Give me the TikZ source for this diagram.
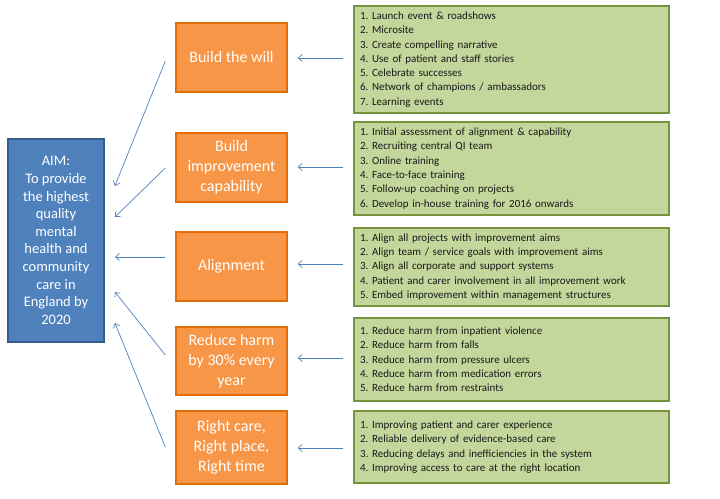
\documentclass[tikz,border=0pt]{standalone}
\usepackage{fontspec}
\setmainfont{Carlito}
\usetikzlibrary{calc,arrows.meta}
\definecolor{aimfill}{HTML}{4F81BD}
\definecolor{aimline}{HTML}{385D8A}
\definecolor{orfill}{HTML}{F79646}
\definecolor{orline}{HTML}{E36C0A}
\definecolor{grfill}{HTML}{C3D69B}
\definecolor{grline}{HTML}{77933C}
\definecolor{arrcol}{HTML}{4F81BD}
\tikzset{
  aimbox/.style={draw=aimline, line width=1.8pt, fill=aimfill, text=white,
    minimum width=96pt, minimum height=203pt, align=center, inner sep=0pt,
    font=\fontsize{14.5}{17.6}\selectfont},
  orbox/.style={draw=orline, line width=1.4pt, fill=orfill, text=white,
    minimum width=111pt, align=center, inner sep=0pt,
    font=\fontsize{16}{20}\selectfont},
  grbox/.style={draw=grline, line width=1.8pt, fill=grfill, text=black!90,
    text width=303pt, inner sep=6pt, align=left,
    font=\fontsize{11}{14.3}\selectfont\frenchspacing},
  arr/.style={draw=arrcol, line width=0.7pt, -{Straight Barb[length=4pt,width=7pt]}}
}
\begin{document}
\begin{tikzpicture}[x=1pt,y=-1pt]
\useasboundingbox (0,0) rectangle (720,498);
% aim
\node[aimbox] (aim) at (56,240.5) {AIM:\\To provide\\the highest\\quality\\mental\\health and\\community\\care in\\England by\\2020};
% orange
\node[orbox, minimum height=69pt] (o1) at (231.5,57.5) {Build the will};
\node[orbox, minimum height=69pt] (o2) at (231.5,167.5) {Build\\improvement\\capability};
\node[orbox, minimum height=69pt] (o3) at (231.5,266.5) {Alignment};
\node[orbox, minimum height=68pt] (o4) at (231.5,361) {Reduce harm\\by 30\% every\\year};
\node[orbox, minimum height=73pt] (o5) at (231.5,447.5) {Right care,\\Right place,\\Right time};
% green
\node[grbox, minimum height=105pt] (g1) at (511.5,59.5) {1. Launch event \& roadshows\\2. Microsite\\3. Create compelling narrative\\4. Use of patient and staff stories\\5. Celebrate successes\\6. Network of champions / ambassadors\\7. Learning events};
\node[grbox, minimum height=93pt] (g2) at (511.5,168.5) {1. Initial assessment of alignment \& capability\\2. Recruiting central QI team\\3. Online training\\4. Face-to-face training\\5. Follow-up coaching on projects\\6. Develop in-house training for 2016 onwards};
\node[grbox, minimum height=78pt] (g3) at (511.5,267) {1. Align all projects with improvement aims\\2. Align team / service goals with improvement aims\\3. Align all corporate and support systems\\4. Patient and carer involvement in all improvement work\\5. Embed improvement within management structures};
\node[grbox, minimum height=83pt] (g4) at (511.5,359.5) {1. Reduce harm from inpatient violence\\2. Reduce harm from falls\\3. Reduce harm from pressure ulcers\\4. Reduce harm from medication errors\\5. Reduce harm from restraints};
\node[grbox, minimum height=72pt] (g5) at (511.5,447) {1. Improving patient and carer experience\\2. Reliable delivery of evidence-based care\\3. Reducing delays and inefficiencies in the system\\4. Improving access to care at the right location};
% green -> orange
\draw[arr] ($(g1.west)+(-10,-1.5)$) -- ($(o1.east)+(10,0.5)$);
\draw[arr] ($(g2.west)+(-10,-1.5)$) -- ($(o2.east)+(10,-0.5)$);
\draw[arr] ($(g3.west)+(-10,-3)$) -- ($(o3.east)+(10,-2.5)$);
\draw[arr] ($(g4.west)+(-10,-1.5)$) -- ($(o4.east)+(10,-3)$);
\draw[arr] ($(g5.west)+(-10,1)$) -- ($(o5.east)+(10,0.5)$);
% orange -> aim
\draw[arr] ($(o1.west)+(-10,3.5)$) -- ($(aim.east)+(10,-54.5)$);
\draw[arr] ($(o2.west)+(-10,0.5)$) -- ($(aim.east)+(10,-23.5)$);
\draw[arr] ($(o3.west)+(-10,-9.5)$) -- ($(aim.east)+(10,16.5)$);
\draw[arr] ($(o4.west)+(-10,-6)$) -- ($(aim.east)+(10,51.5)$);
\draw[arr] ($(o5.west)+(-10,-0.5)$) -- ($(aim.east)+(10,82.5)$);
\end{tikzpicture}
\end{document}
